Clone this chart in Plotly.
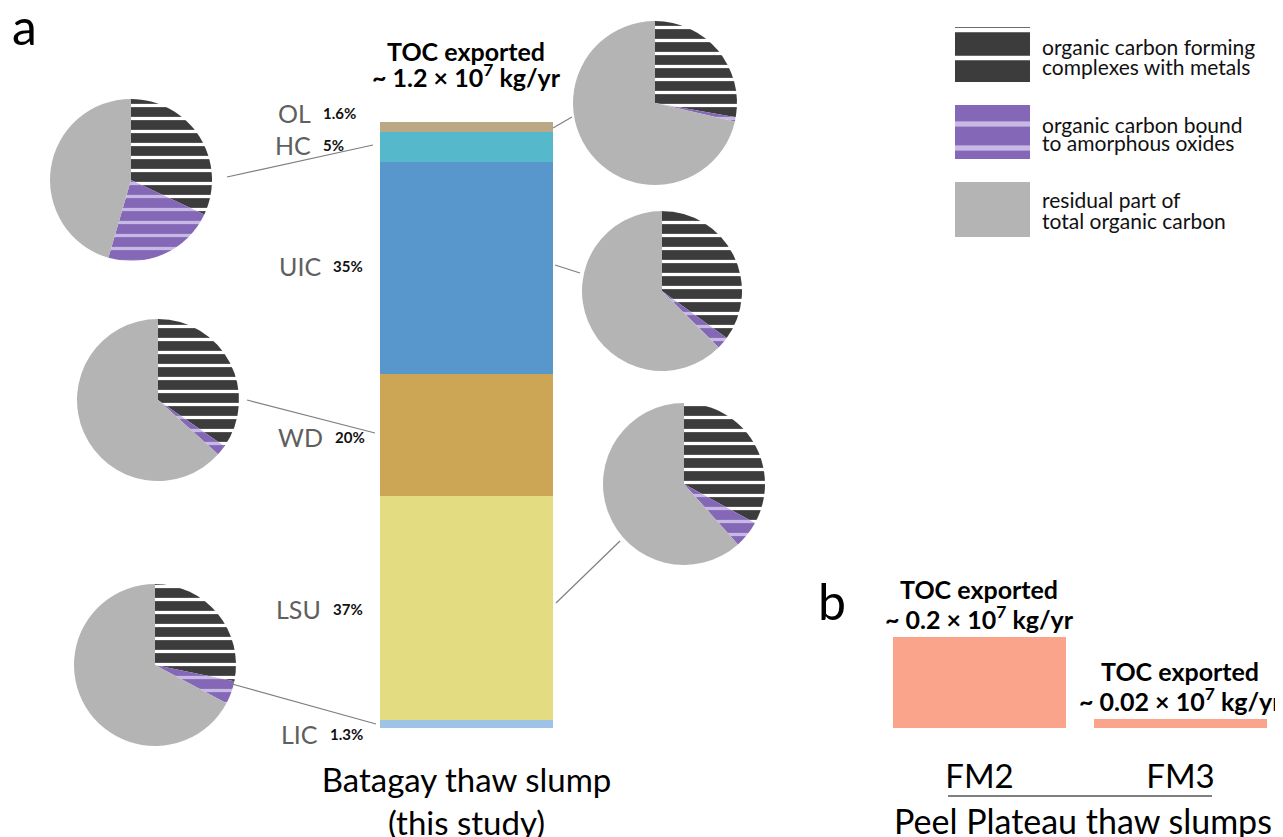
import plotly.graph_objects as go

W, H = 1283, 837
OFF = 8  # page body margin in the browser
FONT = "Lato"

# ---------------- data ----------------
# Batagay stacked bar (share of TOC export, %), bottom -> top
bar_layers = ["LIC", "LSU", "WD", "UIC", "HC", "OL"]
bar_shares = [1.3, 37, 20, 35, 5, 1.6]
bar_colors = ["#9dc3e6", "#e4dc80", "#cda655", "#5797cc", "#56b8cb", "#bba886"]

# Pie fractions per layer (%)
pie_layers = ["OL", "HC", "UIC", "WD", "LSU", "LIC"]
pie_metal = [27.8, 32.0, 35.0, 34.7, 33.0, 28.2]
pie_amorph = [0.8, 22.5, 2.5, 2.0, 5.4, 4.6]
pie_residual = [71.4, 45.5, 62.5, 63.3, 61.6, 67.2]
fraction_names = [["organic carbon forming", "complexes with metals"],
                  ["organic carbon bound", "to amorphous oxides"],
                  ["residual part of", "total organic carbon"]]

# Peel Plateau slumps (TOC export, 1e7 kg/yr)
peel_sites = ["FM2", "FM3"]
peel_toc = [0.2, 0.02]
peel_labels = ["~ 0.2 × 10<sup>7</sup> kg/yr", "~ 0.02 × 10<sup>7</sup> kg/yr"]

batagay_total = "~ 1.2 × 10<sup>7</sup> kg/yr"

# ---------------- layout helpers ----------------
def X(px):
    return (px - OFF) / W

def Y(py):
    return 1 - (py - OFF) / H

frac_bg = ["#3c3c3c", "#8467b6", "#b4b4b4"]
frac_fg = ["#ffffff", "#c8b8e4", "#b4b4b4"]
frac_shape = ["-", "-", ""]

fig = go.Figure()

# main stacked bar
cat = "Batagay thaw slump<br>(this study)"
for name, val, col in zip(bar_layers, bar_shares, bar_colors):
    fig.add_trace(go.Bar(x=[cat], y=[val], name=name, marker=dict(color=col, line=dict(width=0)),
                         width=1, xaxis="x", yaxis="y", showlegend=False, hoverinfo="skip"))

# Peel plateau bars
fig.add_trace(go.Bar(x=peel_sites, y=peel_toc, marker=dict(color="#fba48c", line=dict(width=0)),
                     width=0.86, xaxis="x2", yaxis="y2", showlegend=False, hoverinfo="skip"))

# pies: (center x, center y, radius) in pixels
pie_geom = {"OL": (655, 103, 82), "HC": (131, 180, 81), "UIC": (662, 291, 80),
            "WD": (158, 400, 81), "LSU": (684, 484, 81), "LIC": (155, 665, 81)}
for i, lay in enumerate(pie_layers):
    cx, cy, r = pie_geom[lay]
    fig.add_trace(go.Pie(
        values=[pie_metal[i], pie_amorph[i], pie_residual[i]],
        labels=[" ".join(n) for n in fraction_names], sort=False, direction="clockwise", rotation=0,
        textinfo="none", hoverinfo="skip", showlegend=False, automargin=False,
        marker=dict(colors=frac_bg, line=dict(width=0),
                    pattern=dict(shape=frac_shape, fgcolor=frac_fg, bgcolor=frac_bg,
                                 size=13, solidity=0.25, fillmode="replace")),
        domain=dict(x=[X(cx - r), X(cx + r)], y=[Y(cy + r), Y(cy - r)]),
    ))

# legend swatches (one bar per fraction)
sw_sizes = [28, 24, 10]
sw_solid = [0.16, 0.22, 0.0]
for k in range(3):
    mk = dict(color=frac_bg[k], line=dict(width=0))
    if frac_shape[k]:
        mk["pattern"] = dict(shape=frac_shape[k], fgcolor=frac_fg[k], bgcolor=frac_bg[k],
                             size=sw_sizes[k], solidity=sw_solid[k], fillmode="replace")
    fig.add_trace(go.Bar(x=[1], y=[k], orientation="h", width=0.71, marker=mk,
                         xaxis="x3", yaxis="y3", showlegend=False, hoverinfo="skip"))

ann = []
# layer labels beside the bar
label_pos = {"OL": (313, 113), "HC": (313, 145), "UIC": (323, 266), "WD": (325, 437),
             "LSU": (323, 609), "LIC": (320, 734)}
for lay, val in zip(bar_layers, bar_shares):
    lx, ly = label_pos[lay]
    ann.append(dict(x=X(lx), y=Y(ly), xref="paper", yref="paper", text=lay, showarrow=False,
                    xanchor="right", yanchor="middle", font=dict(family=FONT, size=25, color="#5f5f5f")))
    ann.append(dict(x=X(lx + 8), y=Y(ly), xref="paper", yref="paper", text=f"<b>{val:g}%</b>",
                    showarrow=False, xanchor="left", yanchor="middle",
                    font=dict(family=FONT, size=15, color="#111111")))

# titles (one annotation per line)
def title(xc, y1, y2, amount):
    ann.append(dict(x=X(xc), y=Y(y1), xref="paper", yref="paper", text="<b>TOC exported</b>",
                    showarrow=False, xanchor="center", yanchor="middle",
                    font=dict(family=FONT, size=25, color="#000")))
    ann.append(dict(x=X(xc), y=Y(y2), xref="paper", yref="paper", text="<b>" + amount + "</b>",
                    showarrow=False, xanchor="center", yanchor="middle",
                    font=dict(family=FONT, size=25, color="#000")))

title(466, 51, 76, batagay_total)
title(979, 589, 617, peel_labels[0])
title(1180, 671, 699, peel_labels[1])

ann.append(dict(x=X(1083), y=Y(820), xref="paper", yref="paper", text="Peel Plateau thaw slumps",
                showarrow=False, xanchor="center", yanchor="middle",
                font=dict(family=FONT, size=34, color="#000")))
ann.append(dict(x=X(10), y=Y(26), xref="paper", yref="paper", text="a", showarrow=False,
                xanchor="left", yanchor="middle", font=dict(family=FONT, size=50, color="#000")))
ann.append(dict(x=X(816), y=Y(601), xref="paper", yref="paper", text="b", showarrow=False,
                xanchor="left", yanchor="middle", font=dict(family=FONT, size=50, color="#000")))

# legend texts
leg_y = [(47, 67), (124, 143), (200, 220)]
for names, ys in zip(fraction_names, leg_y):
    for txt, yy in zip(names, ys):
        ann.append(dict(x=X(1040), y=Y(yy), xref="paper", yref="paper", text=txt, showarrow=False,
                        xanchor="left", yanchor="middle", align="left",
                        font=dict(family=FONT, size=21, color="#111")))

# connector lines
lines = [((227, 177), (373, 145)), ((553, 128), (572, 117)), ((555, 265), (580, 273)),
         ((247, 400), (375, 433)), ((556, 603), (620, 541)), ((232, 684), (376, 724))]
shapes = []
for (x0, y0), (x1, y1) in lines:
    shapes.append(dict(type="line", xref="paper", yref="paper", x0=X(x0), y0=Y(y0), x1=X(x1), y1=Y(y1),
                       line=dict(color="#7f7f7f", width=1.2)))
shapes.append(dict(type="line", xref="paper", yref="paper", x0=X(948), y0=Y(796), x1=X(1212), y1=Y(796),
                   line=dict(color="#000", width=1.2)))

ydom = [Y(728), Y(122)]
axis_common = dict(showgrid=False, zeroline=False, showline=False, ticks="", automargin=False)
fig.update_layout(
    template="none",
    width=W, height=H, margin=dict(l=0, r=0, t=0, b=0, pad=0, autoexpand=False),
    paper_bgcolor="white", plot_bgcolor="rgba(0,0,0,0)", barmode="stack", showlegend=False,
    xaxis=dict(domain=[X(380), X(553)], range=[-0.5, 0.5], type="category", ticklabelstandoff=30,
               tickfont=dict(family=FONT, size=33, color="#000"), **axis_common),
    yaxis=dict(domain=ydom, range=[0, sum(bar_shares)], showticklabels=False, **axis_common),
    xaxis2=dict(domain=[X(879), X(1281)], range=[-0.5, 1.5], type="category", ticklabelstandoff=26,
                tickfont=dict(family=FONT, size=33, color="#000"), anchor="y2", **axis_common),
    yaxis2=dict(domain=ydom, range=[0, 0.2 * 606 / 91], showticklabels=False, anchor="x2", **axis_common),
    xaxis3=dict(domain=[X(955), X(1030)], range=[0, 1], showticklabels=False, anchor="y3", **axis_common),
    yaxis3=dict(domain=[Y(248), Y(16)], range=[2.5, -0.5], showticklabels=False, anchor="x3", **axis_common),
    annotations=ann, shapes=shapes,
)

fig.write_html("out.html")
